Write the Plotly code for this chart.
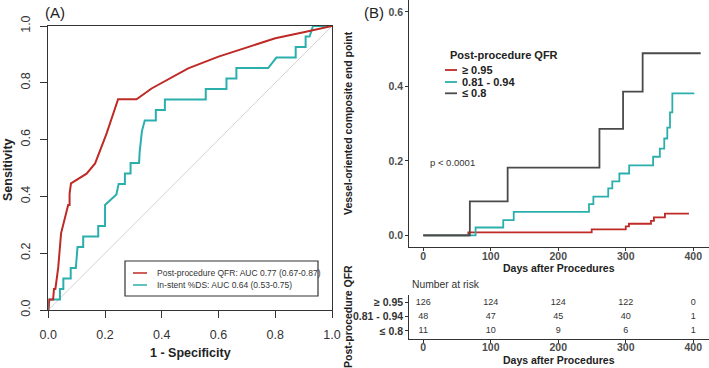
import plotly.graph_objects as go

# ---------------- Panel A: ROC data ----------------
roc_qfr_fpr = [0, 0.003, 0.017, 0.02, 0.025, 0.035, 0.045, 0.06, 0.07, 0.075, 0.075, 0.08,
               0.135, 0.165, 0.205, 0.246, 0.311, 0.364, 0.493, 0.6, 0.8, 0.9, 1.0]
roc_qfr_tpr = [0, 0.037, 0.037, 0.074, 0.074, 0.15, 0.27, 0.33, 0.37, 0.37, 0.41, 0.446,
               0.48, 0.516, 0.62, 0.742, 0.742, 0.78, 0.851, 0.892, 0.957, 0.978, 1.0]

roc_ds_fpr = [0, 0.004, 0.041, 0.041, 0.053, 0.053, 0.079, 0.079, 0.097, 0.103, 0.123, 0.123,
              0.176, 0.176, 0.2, 0.2, 0.24, 0.248, 0.27, 0.27, 0.29, 0.29, 0.32, 0.322, 0.33,
              0.34, 0.379, 0.379, 0.411, 0.411, 0.555, 0.555, 0.628, 0.628, 0.663, 0.663,
              0.775, 0.804, 0.872, 0.872, 0.907, 0.907, 0.921, 0.933, 1.0]
roc_ds_tpr = [0, 0.037, 0.037, 0.074, 0.074, 0.111, 0.111, 0.148, 0.148, 0.222, 0.222, 0.259,
              0.259, 0.296, 0.296, 0.37, 0.407, 0.444, 0.444, 0.481, 0.481, 0.518, 0.518, 0.556, 0.63,
              0.667, 0.667, 0.704, 0.704, 0.741, 0.741, 0.778, 0.778, 0.815, 0.815, 0.852,
              0.852, 0.889, 0.889, 0.926, 0.926, 0.963, 0.963, 1.0, 1.0]

roc_labels = ["Post-procedure QFR: AUC 0.77 (0.67-0.87)", "In-stent %DS: AUC 0.64 (0.53-0.75)"]
roc_ticks = [0.0, 0.2, 0.4, 0.6, 0.8, 1.0]

# ---------------- Panel B: cumulative incidence data ----------------
km_hi_days = [0, 66.7, 249.5, 300, 304.7, 337.3, 341.7, 358, 393.6]
km_hi_vals = [0, 0.008, 0.016, 0.024, 0.031, 0.039, 0.048, 0.058, 0.058]

km_mid_days = [0, 77.5, 118.5, 134, 245.5, 252, 274, 280, 290.5, 305, 340.5, 350.5, 357,
               361.5, 365.5, 369, 401.5]
km_mid_vals = [0, 0.021, 0.041, 0.063, 0.084, 0.104, 0.126, 0.145, 0.166, 0.188, 0.211,
               0.233, 0.26, 0.289, 0.33, 0.381, 0.381]

km_lo_days = [0, 69, 125, 261, 296, 325, 411]
km_lo_vals = [0, 0.091, 0.182, 0.286, 0.386, 0.489, 0.489]

strata = ["≥ 0.95", "0.81 - 0.94", "≤ 0.8"]
risk_days = [0, 100, 200, 300, 400]
risk_hi = [126, 124, 124, 122, 0]
risk_mid = [48, 47, 45, 40, 1]
risk_lo = [11, 10, 9, 6, 1]
km_yticks = [0.0, 0.2, 0.4, 0.6]

RED = "#BE2A26"
TEAL = "#2AAFAD"
DARK = "#4A4A4A"
FONT = "Liberation Sans, Arial, sans-serif"
W, H = 709, 368


def px(x):
    return x / W


def py(y):
    return 1 - y / H


fig = go.Figure()

# Panel A traces
fig.add_trace(go.Scatter(x=[0, 1], y=[0, 1], mode="lines", line=dict(color="#D3D3D3", width=1),
                         showlegend=False, xaxis="x", yaxis="y", hoverinfo="skip"))
fig.add_trace(go.Scatter(x=roc_ds_fpr, y=roc_ds_tpr, mode="lines", line=dict(color=TEAL, width=2),
                         name=roc_labels[1], showlegend=False, xaxis="x", yaxis="y"))
fig.add_trace(go.Scatter(x=roc_qfr_fpr, y=roc_qfr_tpr, mode="lines", line=dict(color=RED, width=2),
                         name=roc_labels[0], showlegend=False, xaxis="x", yaxis="y"))

# Panel B traces
for d, v, c, n in [(km_hi_days, km_hi_vals, RED, strata[0]),
                   (km_mid_days, km_mid_vals, TEAL, strata[1]),
                   (km_lo_days, km_lo_vals, DARK, strata[2])]:
    fig.add_trace(go.Scatter(x=d, y=v, mode="lines", line=dict(color=c, width=1.8, shape="hv"),
                             name=n, showlegend=False, xaxis="x2", yaxis="y2"))

# Risk table
for row, vals in zip([2, 1, 0], [risk_hi, risk_mid, risk_lo]):
    fig.add_trace(go.Scatter(x=risk_days, y=[row] * len(risk_days), mode="text",
                             text=[str(v) for v in vals],
                             textfont=dict(family=FONT, size=9, color="#333333"),
                             showlegend=False, xaxis="x3", yaxis="y3", hoverinfo="skip"))

axis_line = dict(showline=True, linecolor="#333333", showgrid=False, zeroline=False,
                 automargin=False)

fig.update_layout(
    width=W, height=H, margin=dict(l=0, r=0, t=0, b=0, autoexpand=False),
    paper_bgcolor="white", plot_bgcolor="white", showlegend=False,
    font=dict(family=FONT, color="#222222"),
    xaxis=dict(domain=[px(48.3), px(332)], range=[0, 1], tickvals=roc_ticks, tickformat=".1f",
               ticks="outside", ticklen=7, tickcolor="#333333", mirror=True, linewidth=1.3,
               ticklabelstandoff=6,
               tickfont=dict(size=12.5, color="#333333"), anchor="y", **axis_line),
    yaxis=dict(domain=[py(310), py(26)], range=[0, 1], tickvals=roc_ticks, tickformat=".1f",
               ticks="outside", ticklen=7, tickcolor="#333333", mirror=True, linewidth=1.3,
               tickangle=-90, ticklabelstandoff=5,
               tickfont=dict(size=12.5, color="#333333"), anchor="x", **axis_line),
    xaxis2=dict(domain=[px(409.3), 1], range=[-20.7, 423.3], tickvals=risk_days,
                ticks="outside", ticklen=3, tickcolor="#333333", linewidth=1.2,
                ticklabelstandoff=-3,
                tickfont=dict(size=10.5, color="#4D4D4D", weight="bold"), anchor="y2", **axis_line),
    yaxis2=dict(domain=[py(246.7), 1], range=[-0.0306, 0.632], tickvals=km_yticks, tickformat=".1f",
                ticks="outside", ticklen=3, tickcolor="#333333", linewidth=1.2,
                tickfont=dict(size=10.5, color="#4D4D4D", weight="bold"), anchor="x2", **axis_line),
    xaxis3=dict(domain=[px(409.3), 1], range=[-20.7, 423.3], tickvals=risk_days,
                ticks="outside", ticklen=3, tickcolor="#333333", linewidth=1.2,
                ticklabelstandoff=-5,
                tickfont=dict(size=10.5, color="#4D4D4D", weight="bold"), anchor="y3", **axis_line),
    yaxis3=dict(domain=[py(339.3), py(295)], range=[-0.58, 2.51], tickvals=[2, 1, 0],
                ticktext=strata, ticks="outside", ticklen=3, tickcolor="#333333", linewidth=1.2,
                tickfont=dict(size=10.5, color="#333333", weight="bold"), anchor="x3", **axis_line),
)

ann = []


def add_text(x, y, text, size, bold=False, angle=0, xanchor="center", color="#222222"):
    ann.append(dict(x=px(x), y=py(y), xref="paper", yref="paper", text=text, showarrow=False,
                    xanchor=xanchor, yanchor="middle", textangle=angle,
                    font=dict(family=FONT, size=size, color=color,
                              weight="bold" if bold else "normal")))


add_text(43, 12, "(A)", 15, xanchor="left")
add_text(362, 13, "(B)", 15, xanchor="left")
add_text(190, 353, "1 - Specificity", 12.5, bold=True)
add_text(8, 170, "Sensitivity", 12.5, bold=True, angle=-90)
# ROC legend text
add_text(155, 273, roc_labels[0], 8.5, xanchor="left", color="#333333")
add_text(155, 285, roc_labels[1], 8.5, xanchor="left", color="#333333")

add_text(348, 123, "Vessel-oriented composite end point", 10.5, bold=True, angle=-90)
add_text(348, 317, "Post-procedure QFR", 10.5, bold=True, angle=-90)
add_text(448, 55, "Post-procedure QFR", 11, bold=True, xanchor="left")
for yy, lab in zip([70, 82, 93.3], strata):
    add_text(460, yy, lab, 11, bold=True, xanchor="left")
add_text(428, 162, "p < 0.0001", 9.5, xanchor="left", color="#333333")
add_text(559, 267.5, "Days after Procedures", 10.5, bold=True)
add_text(559, 360, "Days after Procedures", 10.5, bold=True)
add_text(410, 284.3, "Number at risk", 10.3, xanchor="left", color="#333333")

shapes = []
# ROC legend box and samples
shapes.append(dict(type="rect", xref="paper", yref="paper", x0=px(125), x1=px(318),
                   y0=py(296), y1=py(261), line=dict(color="#333333", width=1.2),
                   fillcolor="white", layer="above"))
for yy, c in [(273, RED), (285, TEAL)]:
    shapes.append(dict(type="line", xref="paper", yref="paper", x0=px(133), x1=px(147),
                       y0=py(yy), y1=py(yy), line=dict(color=c, width=1.5), layer="above"))
for yy, c in [(70, RED), (82, TEAL), (93.3, DARK)]:
    shapes.append(dict(type="line", xref="paper", yref="paper", x0=px(445), x1=px(457),
                       y0=py(yy), y1=py(yy), line=dict(color=c, width=1.8)))

fig.update_layout(annotations=ann, shapes=shapes)
fig.write_html("out.html", config={"responsive": False, "displayModeBar": False},
               post_script="document.body.style.margin='0px';document.body.style.padding='0px';")
